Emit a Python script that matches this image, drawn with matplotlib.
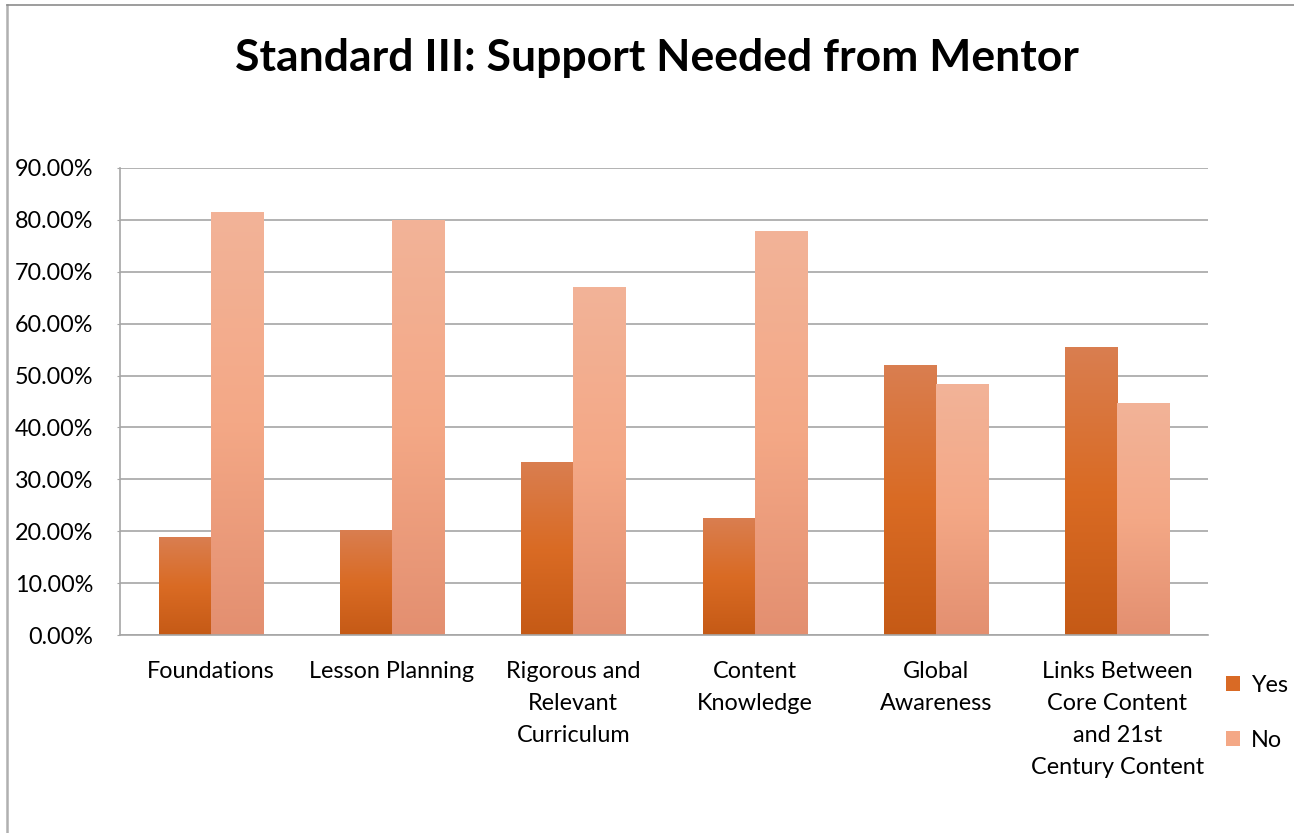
import numpy as np
import matplotlib
matplotlib.use("Agg")
import matplotlib.pyplot as plt
from matplotlib.colors import LinearSegmentedColormap
from matplotlib.lines import Line2D
from matplotlib.patches import Patch

categories = ["Foundations", "Lesson Planning", "Rigorous and\nRelevant\nCurriculum",
              "Content\nKnowledge", "Global\nAwareness",
              "Links Between\nCore Content\nand 21st\nCentury Content"]
yes_values = [18.75, 20.1, 33.2, 22.4, 51.9, 55.4]
no_values = [81.4, 79.8, 66.9, 77.7, 48.2, 44.6]
series_names = ["Yes", "No"]
y_ticks = [0, 10, 20, 30, 40, 50, 60, 70, 80, 90]

plt.rcParams['font.family'] = ['Lato', 'DejaVu Sans']
FS = 16.8

fig = plt.figure(figsize=(12.94, 8.33), dpi=100)
ax = fig.add_axes([120/1294, (833-635)/833, (1208-120)/1294, (635-168)/833])

x = np.arange(len(categories))
w = 0.287
yes_bars = ax.bar(x - w/2, yes_values, w, color='#D96A25', zorder=2)
no_bars = ax.bar(x + w/2, no_values, w, color='#F4A886', zorder=2)

yes_cmap = LinearSegmentedColormap.from_list('yes', ['#C55A16', '#DA6B24', '#D97E50'])
no_cmap = LinearSegmentedColormap.from_list('no', ['#E38F70', '#F4A886', '#F2B398'])
grad = np.linspace(0, 1, 256).reshape(-1, 1)
for bars, cmap in ((yes_bars, yes_cmap), (no_bars, no_cmap)):
    for b in bars:
        x0, y0, bw, bh = b.get_x(), b.get_y(), b.get_width(), b.get_height()
        b.set_alpha(0)
        ax.imshow(grad, cmap=cmap, origin='lower', aspect='auto',
                  extent=[x0, x0 + bw, y0, y0 + bh], zorder=2.5, interpolation='bilinear')

ax.set_xlim(-0.5, len(categories) - 0.5)
ax.set_ylim(0, 90)
ax.set_yticks(y_ticks)
ax.set_yticklabels([f"{t:.2f}%" for t in y_ticks])
ax.set_xticks(x)
ax.set_xticklabels(categories, linespacing=1.64, va='top')
ax.tick_params(axis='x', length=0, pad=19, labelsize=FS)
ax.tick_params(axis='y', length=2, color='#A6A6A6', pad=17, labelsize=FS)
ax.grid(axis='y', color='#A6A6A6', linewidth=1.2, zorder=1)
ax.set_axisbelow(True)
for s in ['top', 'right']:
    ax.spines[s].set_visible(False)
ax.spines['left'].set_color('#A6A6A6')
ax.spines['bottom'].set_color('#A6A6A6')
ax.spines['left'].set_linewidth(1.2)
ax.spines['bottom'].set_linewidth(1.2)

fig.text(657/1294, 1 - 58/833, "Standard III: Support Needed from Mentor",
         ha='center', va='center', fontsize=32, fontweight='bold')

handles = [Patch(facecolor='#D96A25'), Patch(facecolor='#F4A886')]
fig.legend(handles, series_names, loc='center left',
           bbox_to_anchor=(1226/1294, 1 - 713/833), frameon=False, borderpad=0,
           borderaxespad=0, fontsize=FS, handlelength=0.62, handleheight=0.62,
           labelspacing=1.45, handletextpad=0.45)

fig.add_artist(Line2D([7/1294, 7/1294], [0, 1 - 5/833], transform=fig.transFigure,
                      color='#B0B0B0', linewidth=1.8))
fig.add_artist(Line2D([7/1294, 1], [1 - 5/833, 1 - 5/833], transform=fig.transFigure,
                      color='#8C8C8C', linewidth=1.2))

fig.savefig("out.png", dpi=100)
